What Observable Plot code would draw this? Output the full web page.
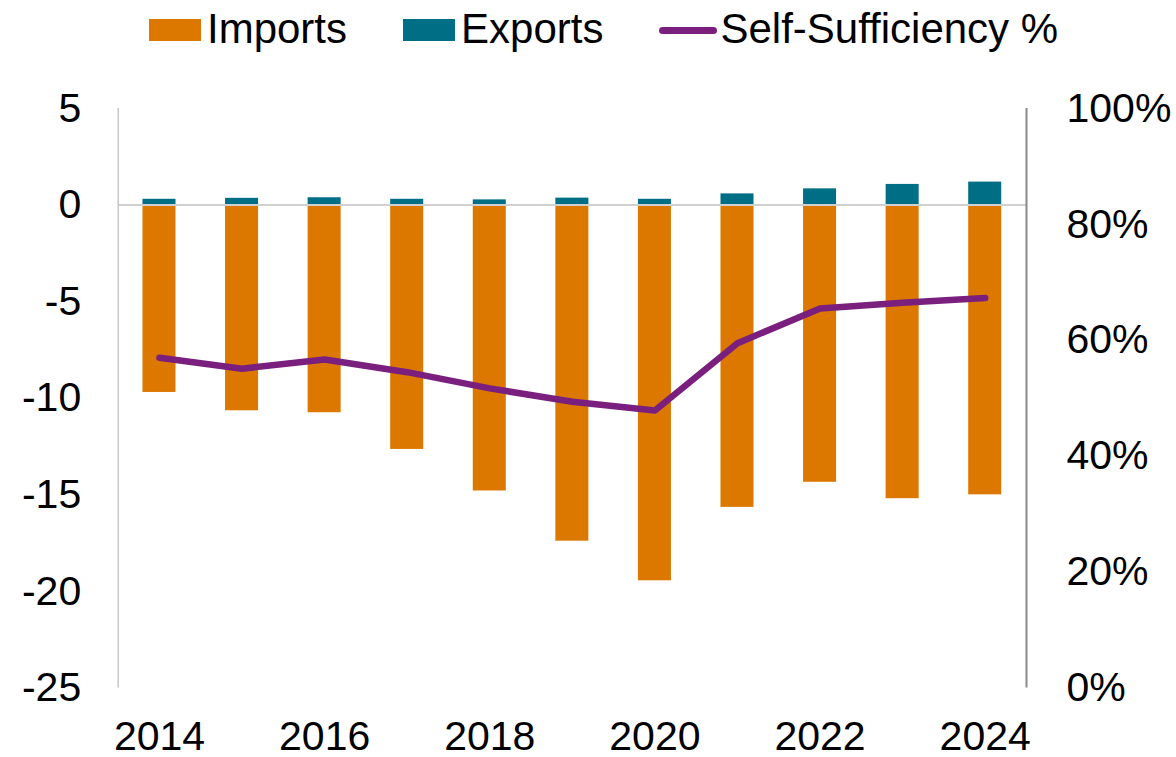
<!DOCTYPE html>
<html>
<head>
<meta charset="utf-8">
<script src="https://cdn.jsdelivr.net/npm/d3@7"></script>
<script src="https://cdn.jsdelivr.net/npm/@observablehq/plot@0.6"></script>
<style>
  html, body { margin: 0; padding: 0; background: #fff; }
  body { width: 1176px; font-family: "Liberation Sans", Arial, sans-serif; }
  #legend { position: relative; height: 60px; display: flex; align-items: center; padding-left: 149px; box-sizing: border-box; font-size: 42px; color: #000; }
  .item { display: flex; align-items: center; margin-right: 56px; }
  .sw { width: 52px; height: 22px; margin-right: 6px; }
  .ln { width: 58px; height: 7px; border-radius: 4px; margin-right: 3px; }
  .lab { line-height: 1; position: relative; top: -1px; }
</style>
</head>
<body>
<div id="legend"></div>
<div id="chart"></div>
<script>
const years   = [2014, 2015, 2016, 2017, 2018, 2019, 2020, 2021, 2022, 2023, 2024];
const imports = [-9.7, -10.65, -10.75, -12.65, -14.8, -17.4, -19.45, -15.65, -14.35, -15.2, -15.0];
const exports = [0.3, 0.35, 0.38, 0.3, 0.27, 0.36, 0.3, 0.58, 0.84, 1.07, 1.19];
const selfSufficiency = [57.0, 55.1, 56.7, 54.5, 51.7, 49.4, 47.9, 59.5, 65.5, 66.5, 67.3];
const leftTicks  = [-25, -20, -15, -10, -5, 0, 5];
const rightTicks = [0, 20, 40, 60, 80, 100];
const xTicks = [2014, 2016, 2018, 2020, 2022, 2024];

const colors = { imports: "#DC7800", exports: "#006F86", line: "#7A1F7E" };
const seriesNames = ["Imports", "Exports", "Self-Sufficiency %"];

const data = years.map((year, i) => ({ year, imports: imports[i], exports: exports[i], pct: selfSufficiency[i] }));
const pctToY = d3.scaleLinear().domain([0, 100]).range([-25, 5]);

// Legend
const legend = document.getElementById("legend");
[["sw", colors.imports, seriesNames[0]], ["sw", colors.exports, seriesNames[1]], ["ln", colors.line, seriesNames[2]]].forEach(([cls, col, name]) => {
  const it = document.createElement("div"); it.className = "item";
  const m = document.createElement("div"); m.className = cls; m.style.background = col;
  const t = document.createElement("span"); t.className = "lab"; t.textContent = name;
  it.append(m, t); legend.append(it);
});

const half = 0.2;
const chart = Plot.plot({
  width: 1176,
  height: 697,
  marginTop: 48,
  marginBottom: 69.5,
  marginLeft: 117.7,
  marginRight: 150,
  style: { fontFamily: "'Liberation Sans', Arial, sans-serif", fontSize: "41px", color: "#000", background: "#fff", overflow: "visible" },
  x: { type: "linear", domain: [2013.5, 2024.5] },
  y: { domain: [-25, 5] },
  marks: [
    Plot.rectY(data, { x1: d => d.year - half, x2: d => d.year + half, y1: 0, y2: "imports", fill: colors.imports }),
    Plot.rectY(data, { x1: d => d.year - half, x2: d => d.year + half, y1: 0, y2: "exports", fill: colors.exports }),
    Plot.ruleY([0], { stroke: "#d0d0d0", strokeWidth: 2 }),
    Plot.ruleX([2013.5], { y1: -25, y2: 5, stroke: "#c8c8c8", strokeWidth: 1.5 }),
    Plot.ruleX([2024.5], { y1: -25, y2: 5, stroke: "#8a8a8a", strokeWidth: 2 }),
    Plot.line(data, { x: "year", y: d => pctToY(d.pct), stroke: colors.line, strokeWidth: 6.5, strokeLinecap: "round", strokeLinejoin: "round" }),
    Plot.axisY({ anchor: "left", ticks: leftTicks, tickFormat: d => String(d), tickSize: 0, tickPadding: 37, label: null, fill: "#000" }),
    Plot.axisY({ anchor: "right", ticks: rightTicks.map(p => pctToY(p)), tickFormat: d => Math.round(pctToY.invert(d)) + "%", tickSize: 0, tickPadding: 40, label: null, fill: "#000" }),
    Plot.axisX({ ticks: xTicks, tickFormat: d => String(d), tickSize: 0, tickPadding: 33, label: null, fill: "#000" })
  ]
});
document.getElementById("chart").append(chart);
</script>
</body>
</html>
